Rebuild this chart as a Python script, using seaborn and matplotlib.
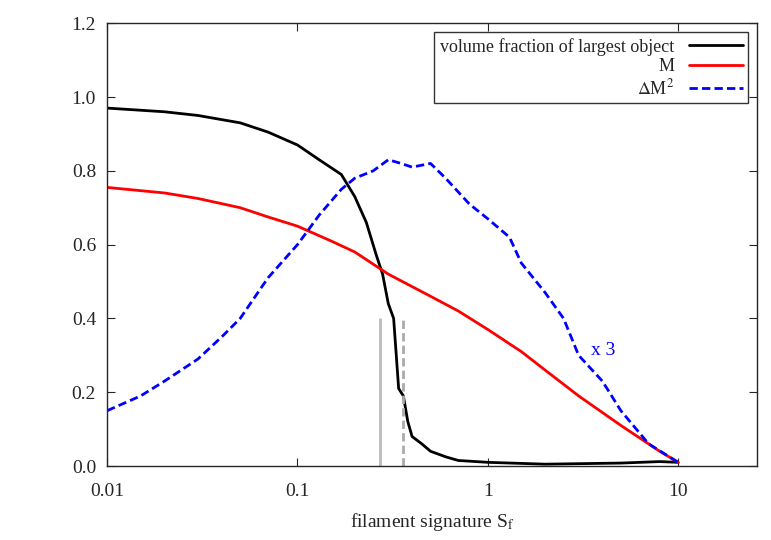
import matplotlib
matplotlib.use("Agg")
import matplotlib.pyplot as plt
import seaborn as sns
import pandas as pd

sns.set_style("ticks")
plt.rcParams["font.family"] = "Liberation Serif"
plt.rcParams["mathtext.fontset"] = "stix"

vf_x = [0.01,0.02,0.03,0.05,0.07,0.1,0.13,0.17,0.2,0.23,0.26,0.28,0.3,0.32,0.34,0.36,0.38,0.4,0.45,0.5,0.6,0.7,1,2,5,8,10]
vf_y = [0.97,0.96,0.95,0.93,0.905,0.87,0.83,0.79,0.73,0.66,0.57,0.52,0.44,0.40,0.21,0.19,0.12,0.08,0.06,0.04,0.025,0.015,0.01,0.005,0.008,0.012,0.01]
m_x = [0.01,0.02,0.03,0.05,0.07,0.1,0.15,0.2,0.3,0.5,0.7,1,1.5,2,3,5,8,10]
m_y = [0.755,0.74,0.725,0.70,0.675,0.65,0.61,0.58,0.52,0.46,0.42,0.37,0.31,0.26,0.19,0.11,0.04,0.01]
dm_x = [0.01,0.015,0.02,0.03,0.04,0.05,0.07,0.1,0.13,0.17,0.2,0.25,0.3,0.35,0.4,0.5,0.6,0.8,1,1.3,1.5,2,2.5,3,4,5,7,10]
dm_y = [0.15,0.19,0.23,0.29,0.35,0.40,0.51,0.60,0.68,0.75,0.78,0.80,0.83,0.82,0.81,0.82,0.78,0.71,0.67,0.62,0.55,0.47,0.40,0.30,0.23,0.15,0.06,0.01]
xticks = [0.01, 0.1, 1, 10]
xticklabels = ["0.01", "0.1", "1", "10"]

fig, ax = plt.subplots(figsize=(7.71, 5.40), dpi=100)
fig.subplots_adjust(left=0.139, right=0.982, top=0.957, bottom=0.137)

sns.lineplot(data=pd.DataFrame({"x": vf_x, "y": vf_y}), x="x", y="y", ax=ax, color="black", lw=2, label="volume fraction of largest object")
sns.lineplot(data=pd.DataFrame({"x": m_x, "y": m_y}), x="x", y="y", ax=ax, color="red", lw=2, label="M")
sns.lineplot(data=pd.DataFrame({"x": dm_x, "y": dm_y}), x="x", y="y", ax=ax, color="blue", lw=2, ls=(0, (3, 1.5)), label=r"$\Delta$M$^2$")
ax.vlines(0.27, 0, 0.4, color="#bbbbbb", lw=2)
ax.vlines(0.36, 0, 0.4, color="#aaaaaa", lw=2, ls=(0, (3, 1.5)))
ax.text(3.5, 0.3, "x 3", color="blue", fontsize=14)

ax.set_xscale("log")
ax.set_xlim(0.01, 26)
ax.set_ylim(0, 1.2)
ax.set_xticks(xticks)
ax.set_xticklabels(xticklabels)
ax.minorticks_off()
ax.set_yticks([0, 0.2, 0.4, 0.6, 0.8, 1.0, 1.2])
ax.set_yticklabels(["0.0", "0.2", "0.4", "0.6", "0.8", "1.0", "1.2"])
ax.tick_params(which="both", direction="in", top=True, right=True, labelsize=14, length=6)
ax.tick_params(axis="x", pad=12)
ax.tick_params(axis="y", pad=8)
ax.set_xlabel(r"filament signature S$_\mathrm{f}$", fontsize=14, labelpad=8)
ax.set_ylabel("")
ax.legend(loc="upper right", markerfirst=False, fontsize=13, fancybox=False, edgecolor="black", handlelength=3, borderpad=0.3, labelspacing=0.15)
for s in ax.spines.values():
    s.set_linewidth(1)
fig.savefig("out.png", dpi=100)
